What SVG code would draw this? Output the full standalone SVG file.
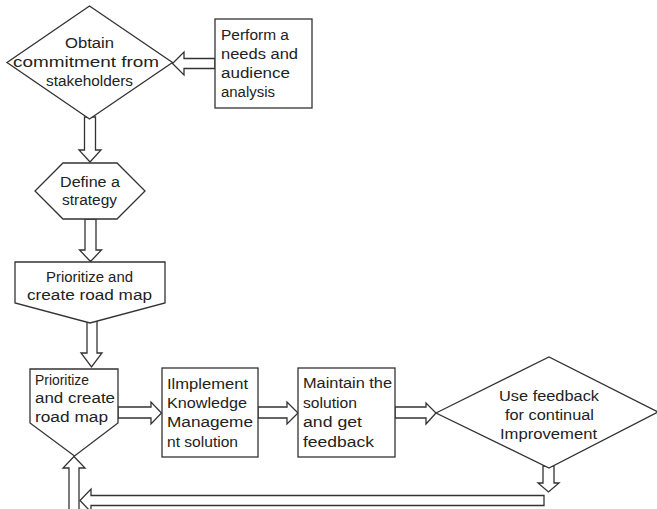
<svg xmlns="http://www.w3.org/2000/svg" width="657" height="509" viewBox="0 0 657 509">
  <style>
    .shape { fill: #ffffff; stroke: #333333; stroke-width: 1.3; stroke-linejoin: miter; }
    .arrow { fill: #ffffff; stroke: #333333; stroke-width: 1.3; stroke-linejoin: miter; }
    .label { font-family: "Liberation Sans", Arial, sans-serif; font-size: 15.5px; fill: #222222; }
  </style>
  <rect width="657" height="509" fill="#ffffff"/>

  <!-- block arrows between steps -->
  <g id="connectors">
    <!-- needs analysis to commitment -->
    <polygon class="arrow" points="215,58.5 184,58.5 184,52 172.5,63.5 184,75 184,68.5 215,68.5"/>
    <!-- commitment to strategy -->
    <polygon class="arrow" points="84.5,117 95.5,117 95.5,150 101,150 90,162 79,150 84.5,150"/>
    <!-- strategy to road map -->
    <polygon class="arrow" points="85,219 96,219 96,250 101.5,250 90.5,261.5 79.5,250 85,250"/>
    <!-- road map to prioritize -->
    <polygon class="arrow" points="87,321 97,321 97,353 102,353 91.5,367 81,353 87,353"/>
    <!-- prioritize to implement -->
    <polygon class="arrow" points="118,407 151,407 151,402 161.5,413 151,424 151,418 118,418"/>
    <!-- implement to maintain -->
    <polygon class="arrow" points="258,407 287,407 287,402 298,413 287,424 287,418 258,418"/>
    <!-- maintain to feedback decision -->
    <polygon class="arrow" points="395,407 426,407 426,403 436,413 426,424 426,418 395,418"/>
    <!-- feedback decision downward -->
    <polygon class="arrow" points="543,466 554,466 554,483 559,483 548.5,492 538,483 543,483"/>
    <!-- return path along the bottom -->
    <polygon class="arrow" points="544,495.5 544,505.5 91,505.5 91,512 80,500.5 91,489 91,495.5"/>
    <!-- return path rising to prioritize -->
    <polygon class="arrow" points="69,515 69,468 63,468 74,456.5 85,468 79,468 79,515"/>
  </g>

  <g id="node-commitment">
    <polygon class="shape" points="89.5,6 172.5,62.5 89.5,119 7,62.5"/>
    <text class="label" x="65" y="48" textLength="49" lengthAdjust="spacingAndGlyphs">Obtain</text>
    <text class="label" x="13" y="67" textLength="146" lengthAdjust="spacingAndGlyphs">commitment from</text>
    <text class="label" x="46" y="86" textLength="87" lengthAdjust="spacingAndGlyphs">stakeholders</text>
  </g>

  <g id="node-analysis">
    <rect class="shape" x="215" y="19" width="97" height="89"/>
    <text class="label" x="221" y="40" textLength="68" lengthAdjust="spacingAndGlyphs">Perform a</text>
    <text class="label" x="221" y="59" textLength="77" lengthAdjust="spacingAndGlyphs">needs and</text>
    <text class="label" x="221" y="78" textLength="69" lengthAdjust="spacingAndGlyphs">audience</text>
    <text class="label" x="221" y="97" textLength="54" lengthAdjust="spacingAndGlyphs">analysis</text>
  </g>

  <g id="node-strategy">
    <polygon class="shape" points="63,163 117,163 145,191 117,219 63,219 35,191"/>
    <text class="label" x="60" y="187" textLength="60" lengthAdjust="spacingAndGlyphs">Define a</text>
    <text class="label" x="62" y="205" textLength="55" lengthAdjust="spacingAndGlyphs">strategy</text>
  </g>

  <g id="node-roadmap">
    <polygon class="shape" points="15,262 165,262 165,303 90,323 15,303"/>
    <text class="label" x="46" y="282" textLength="87" lengthAdjust="spacingAndGlyphs">Prioritize and</text>
    <text class="label" x="27" y="300" textLength="125" lengthAdjust="spacingAndGlyphs">create road map</text>
  </g>

  <g id="node-prioritize">
    <polygon class="shape" points="30,369 118,369 118,423 74.5,456 30,423"/>
    <text class="label" x="35" y="385" textLength="54" lengthAdjust="spacingAndGlyphs">Prioritize</text>
    <text class="label" x="35" y="403" textLength="80" lengthAdjust="spacingAndGlyphs">and create</text>
    <text class="label" x="35" y="422" textLength="73" lengthAdjust="spacingAndGlyphs">road map</text>
  </g>

  <g id="node-implement">
    <rect class="shape" x="162" y="368" width="96" height="89"/>
    <text class="label" x="167" y="389" textLength="81" lengthAdjust="spacingAndGlyphs">Ilmplement</text>
    <text class="label" x="167" y="408" textLength="80" lengthAdjust="spacingAndGlyphs">Knowledge</text>
    <text class="label" x="167" y="427" textLength="86" lengthAdjust="spacingAndGlyphs">Manageme</text>
    <text class="label" x="167" y="447" textLength="71" lengthAdjust="spacingAndGlyphs">nt solution</text>
  </g>

  <g id="node-maintain">
    <rect class="shape" x="298" y="368" width="97" height="89"/>
    <text class="label" x="303" y="388" textLength="89" lengthAdjust="spacingAndGlyphs">Maintain the</text>
    <text class="label" x="303" y="408" textLength="54" lengthAdjust="spacingAndGlyphs">solution</text>
    <text class="label" x="303" y="427" textLength="59" lengthAdjust="spacingAndGlyphs">and get</text>
    <text class="label" x="303" y="447" textLength="71" lengthAdjust="spacingAndGlyphs">feedback</text>
  </g>

  <g id="node-feedback">
    <polygon class="shape" points="436,413 549,357 658,412 549,468"/>
    <text class="label" x="499" y="401" textLength="100" lengthAdjust="spacingAndGlyphs">Use feedback</text>
    <text class="label" x="505" y="420" textLength="89" lengthAdjust="spacingAndGlyphs">for continual</text>
    <text class="label" x="500" y="439" textLength="97" lengthAdjust="spacingAndGlyphs">Improvement</text>
  </g>
</svg>
